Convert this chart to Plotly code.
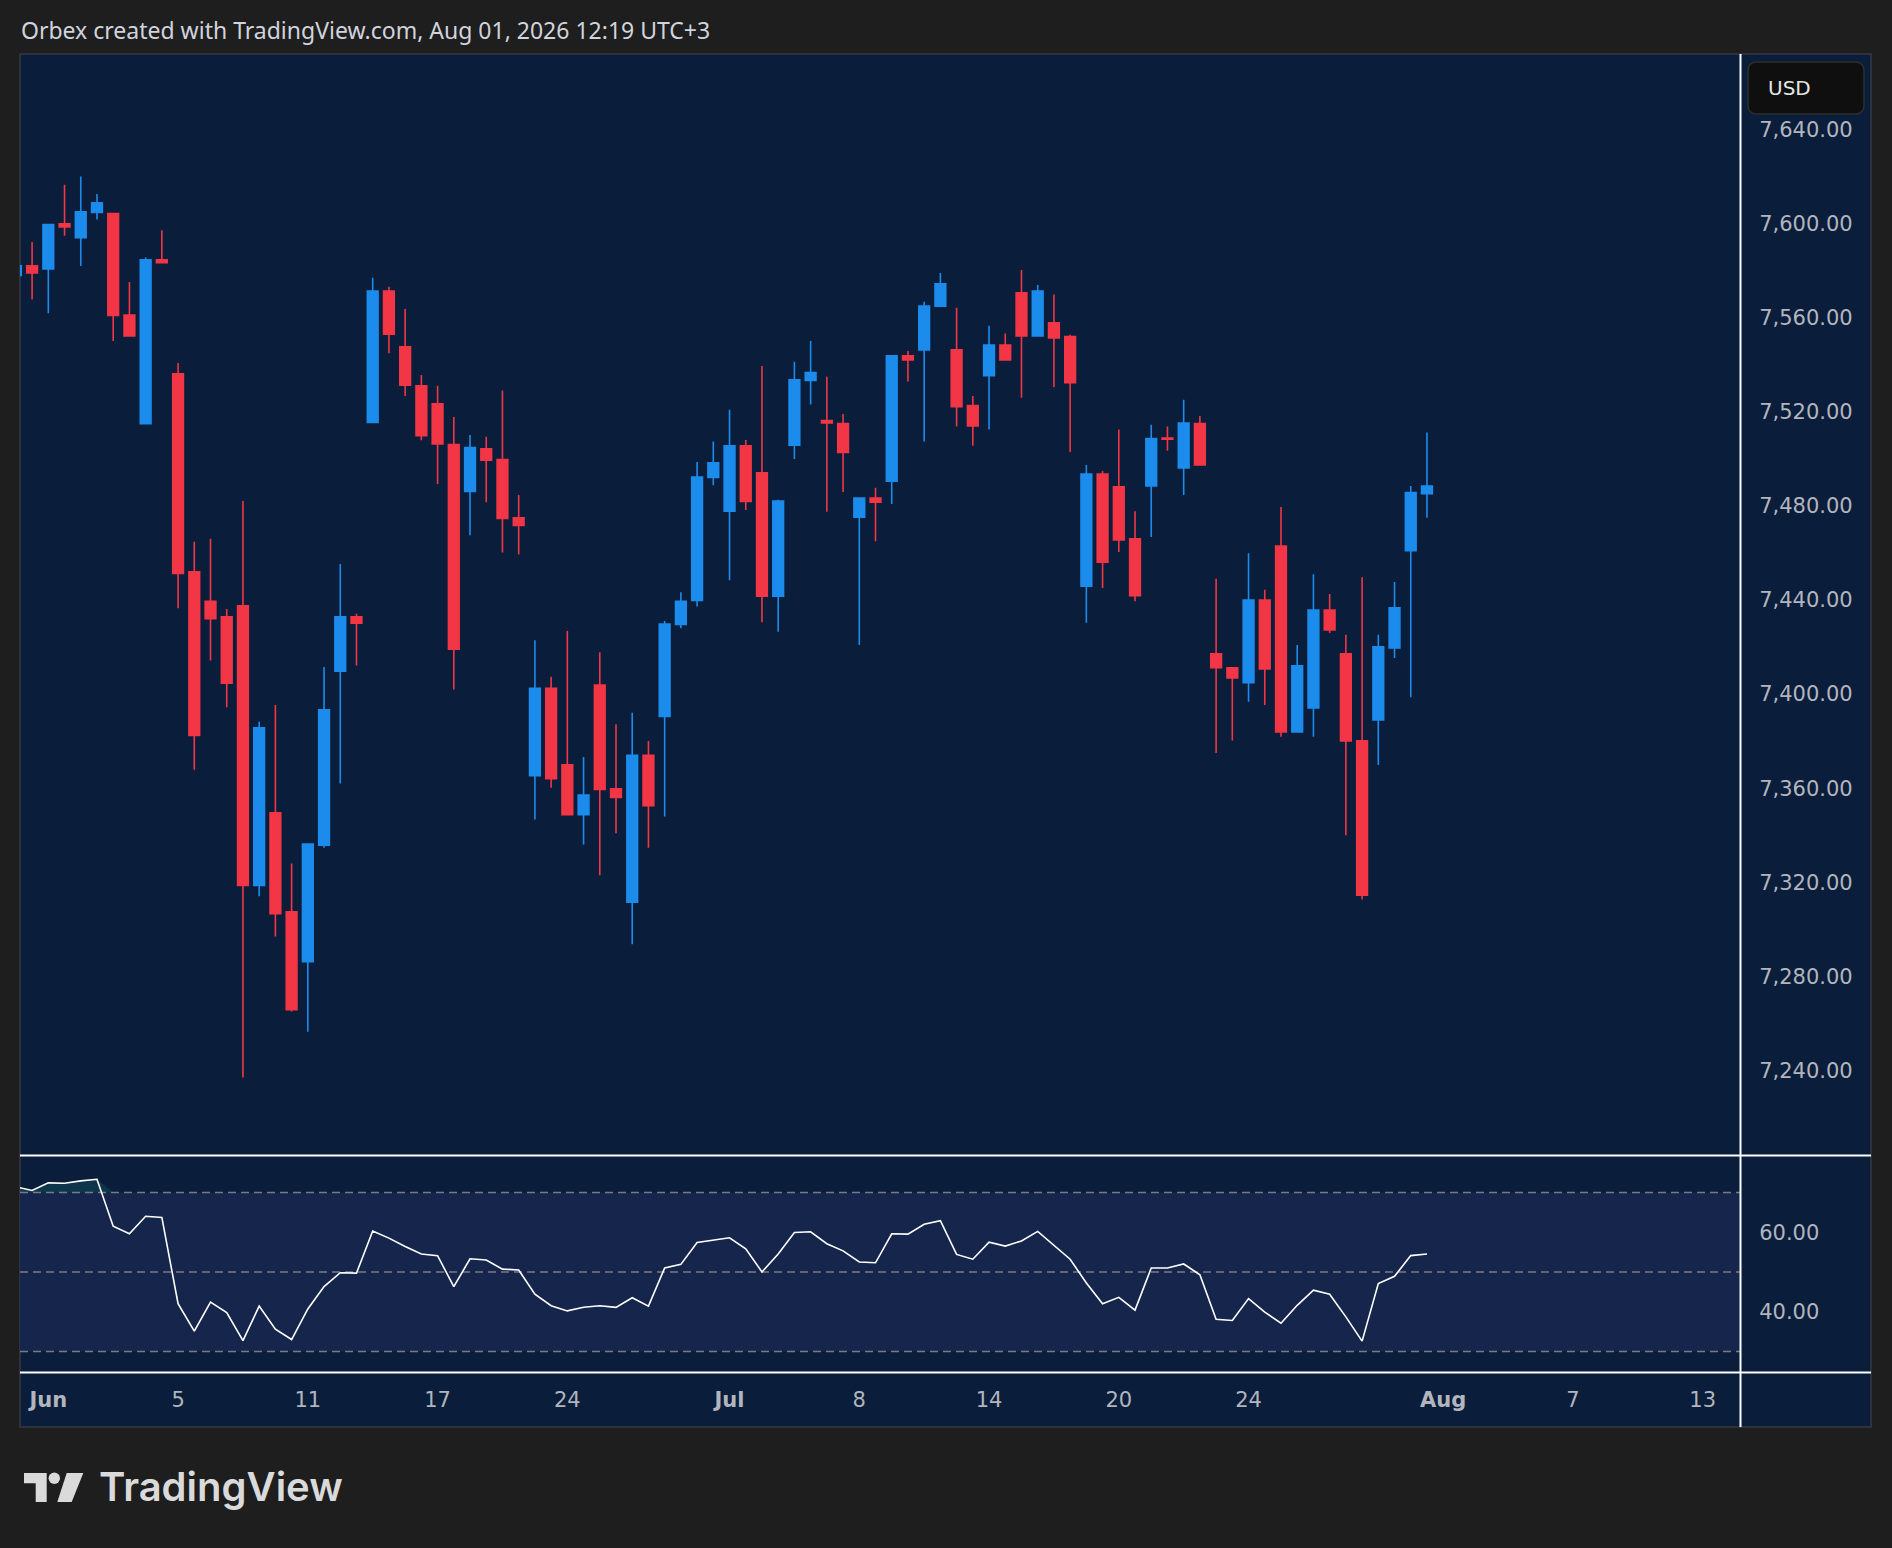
import plotly.graph_objects as go

# ---- data ---------------------------------------------------------------
# candle index: 0 = last candle of May 29, two candles per trading day
IDX = list(range(-1, 87))

OPEN = [7578.0, 7582.1, 7580.8, 7600.0, 7594.1, 7604.8, 7604.3, 7561.2, 7515.0, 7584.7,
        7536.2, 7452.0, 7439.5, 7432.9, 7437.5, 7318.6, 7349.5, 7307.4, 7286.2, 7335.7,
        7409.7, 7432.9, 7515.5, 7571.4, 7547.7, 7531.1, 7523.4, 7506.1, 7486.2, 7504.3,
        7499.7, 7475.0, 7365.3, 7402.5, 7369.9, 7348.7, 7403.8, 7359.7, 7311.5, 7374.0,
        7390.5, 7429.6, 7439.8, 7492.1, 7477.8, 7505.6, 7494.1, 7441.6, 7505.8, 7533.4,
        7516.3, 7515.0, 7475.2, 7483.4, 7490.5, 7543.9, 7546.4, 7565.0, 7546.4, 7522.7,
        7535.4, 7548.4, 7570.6, 7552.3, 7557.9, 7552.0, 7445.9, 7493.6, 7488.2, 7466.0,
        7488.5, 7508.9, 7496.2, 7515.0, 7417.1, 7411.2, 7404.8, 7440.0, 7463.0, 7383.9,
        7394.1, 7435.7, 7417.1, 7380.1, 7389.0, 7419.6, 7461.0, 7485.2]
HIGH = [7583.0, 7592.3, 7599.7, 7616.6, 7620.1, 7612.7, 7604.3, 7575.2, 7585.7, 7597.2,
        7540.8, 7464.8, 7466.1, 7436.2, 7482.1, 7388.2, 7395.4, 7328.0, 7336.2, 7411.5,
        7455.3, 7434.2, 7577.0, 7573.2, 7563.8, 7535.7, 7531.1, 7517.8, 7510.2, 7509.4,
        7529.1, 7484.7, 7422.9, 7407.4, 7426.8, 7373.2, 7417.8, 7387.2, 7392.1, 7380.1,
        7431.1, 7443.3, 7498.7, 7507.4, 7520.9, 7508.1, 7539.5, 7482.6, 7541.3, 7550.2,
        7534.9, 7519.1, 7483.4, 7487.7, 7543.9, 7545.9, 7566.8, 7579.1, 7564.3, 7526.8,
        7556.6, 7553.3, 7580.3, 7574.0, 7569.9, 7552.8, 7497.4, 7494.9, 7512.5, 7477.8,
        7514.5, 7513.8, 7525.2, 7518.3, 7449.0, 7411.2, 7459.9, 7444.4, 7479.6, 7420.9,
        7451.0, 7442.6, 7425.2, 7449.7, 7425.2, 7447.7, 7488.5, 7511.2]
LOW = [7577.0, 7567.8, 7562.0, 7594.9, 7582.1, 7601.8, 7550.2, 7552.3, 7515.0, 7583.4,
       7436.5, 7367.8, 7414.3, 7394.4, 7237.0, 7314.0, 7296.9, 7265.0, 7256.4, 7334.7,
       7362.0, 7412.2, 7515.5, 7544.9, 7526.8, 7507.9, 7489.3, 7402.0, 7467.6, 7481.6,
       7460.2, 7459.4, 7346.7, 7360.2, 7348.7, 7336.0, 7323.0, 7340.8, 7293.6, 7334.7,
       7348.0, 7428.0, 7437.2, 7488.8, 7448.4, 7478.3, 7430.6, 7426.5, 7500.0, 7523.2,
       7477.5, 7485.9, 7420.9, 7465.0, 7480.8, 7532.9, 7507.4, 7564.8, 7513.8, 7505.6,
       7512.5, 7542.1, 7526.0, 7552.3, 7530.6, 7503.0, 7430.3, 7445.1, 7460.4, 7439.5,
       7466.8, 7503.5, 7484.7, 7497.4, 7375.0, 7380.3, 7396.7, 7395.4, 7381.9, 7383.9,
       7381.9, 7426.0, 7340.0, 7312.7, 7369.9, 7415.3, 7398.7, 7475.0]
CLOSE = [7582.1, 7579.1, 7599.7, 7598.7, 7605.1, 7608.9, 7561.0, 7552.3, 7584.7, 7583.4,
         7451.3, 7382.4, 7432.1, 7404.6, 7318.6, 7385.7, 7306.6, 7265.8, 7336.2, 7393.3,
         7432.9, 7430.1, 7571.4, 7553.0, 7531.4, 7509.9, 7506.4, 7419.1, 7504.8, 7499.5,
         7474.7, 7471.7, 7402.5, 7364.0, 7348.7, 7357.1, 7359.4, 7356.1, 7374.0, 7352.5,
         7429.8, 7439.5, 7492.3, 7498.4, 7505.6, 7481.9, 7441.6, 7482.1, 7533.7, 7536.7,
         7515.3, 7502.8, 7483.4, 7481.6, 7543.9, 7542.1, 7565.0, 7574.5, 7522.2, 7514.0,
         7548.4, 7542.1, 7552.3, 7571.4, 7551.5, 7532.4, 7493.6, 7456.1, 7465.5, 7441.8,
         7508.7, 7508.4, 7515.3, 7497.4, 7411.2, 7406.9, 7440.0, 7410.7, 7383.9, 7412.0,
         7435.7, 7427.3, 7380.1, 7314.5, 7420.1, 7436.7, 7485.7, 7488.5]

RSI = [71.4, 70.5, 72.4, 72.3, 72.9, 73.3, 61.5, 59.6, 64.0, 63.7,
       42.0, 35.1, 42.4, 39.8, 32.7, 41.4, 35.6, 33.0, 40.7, 46.3,
       49.8, 49.7, 60.3, 58.5, 56.4, 54.5, 54.1, 46.3, 53.3, 53.0,
       50.7, 50.5, 44.4, 41.5, 40.2, 41.1, 41.5, 41.1, 43.5, 41.4,
       51.0, 51.9, 57.4, 58.0, 58.6, 55.8, 50.0, 54.5, 59.9, 60.1,
       57.1, 55.3, 52.5, 52.3, 59.6, 59.5, 62.0, 62.9, 54.4, 53.2,
       57.5, 56.5, 57.8, 60.2, 56.6, 53.2, 47.2, 42.0, 43.6, 40.4,
       51.0, 51.0, 52.0, 49.3, 38.1, 37.8, 43.3, 39.9, 37.1, 41.6,
       45.4, 44.4, 38.7, 32.6, 47.1, 48.9, 54.1, 54.5]

PRICE_TICKS = [7240, 7280, 7320, 7360, 7400, 7440, 7480, 7520, 7560, 7600, 7640]
RSI_TICKS = [40, 60]
RSI_LEVELS = [70, 50, 30]
X_TICK_POS = [1, 9, 17, 25, 33, 43, 51, 59, 67, 75, 87, 95, 103]
X_TICK_TEXT = ["<b>Jun</b>", "5", "11", "17", "24", "<b>Jul</b>", "8", "14", "20", "24",
               "<b>Aug</b>", "7", "13"]

HEADER = "Orbex created with TradingView.com, Aug 01, 2026 12:19 UTC+3"

# ---- page geometry (pixels) ---------------------------------------------
W, H = 1892, 1548
BG_PAGE = "#1e1e1e"
BG_CHART = "#0a1d3a"
BAND = "#16254b"
UP = "#1c8cec"
DOWN = "#f23645"
AXIS_TXT = "#b2b5be"
FONT = "'DejaVu Sans', sans-serif"


def px(x):
    return x / W


def py(y):
    return 1 - y / H


def rounded_rect(x0, y0, x1, y1, r):
    """svg path in paper coords for a rounded rectangle given in pixels"""
    pts = [
        f"M{px(x0 + r)},{py(y0)}", f"L{px(x1 - r)},{py(y0)}",
        f"Q{px(x1)},{py(y0)} {px(x1)},{py(y0 + r)}", f"L{px(x1)},{py(y1 - r)}",
        f"Q{px(x1)},{py(y1)} {px(x1 - r)},{py(y1)}", f"L{px(x0 + r)},{py(y1)}",
        f"Q{px(x0)},{py(y1)} {px(x0)},{py(y1 - r)}", f"L{px(x0)},{py(y0 + r)}",
        f"Q{px(x0)},{py(y0)} {px(x0 + r)},{py(y0)}", "Z",
    ]
    return " ".join(pts)


X_RANGE = [-0.746, 105.3]

fig = go.Figure()

fig.add_trace(go.Candlestick(
    x=IDX, open=OPEN, high=HIGH, low=LOW, close=CLOSE,
    increasing=dict(line=dict(color=UP, width=1.6), fillcolor=UP),
    decreasing=dict(line=dict(color=DOWN, width=1.6), fillcolor=DOWN),
    whiskerwidth=0, xaxis="x", yaxis="y", showlegend=False, hoverinfo="skip",
))

# faint overbought fill above 70
fig.add_trace(go.Scatter(
    x=IDX, y=[70] * len(IDX), mode="lines", line=dict(width=0),
    xaxis="x2", yaxis="y2", showlegend=False, hoverinfo="skip",
))
fig.add_trace(go.Scatter(
    x=IDX, y=[max(v, 70) for v in RSI], mode="lines", line=dict(width=0),
    fill="tonexty", fillcolor="rgba(38,166,154,0.18)",
    xaxis="x2", yaxis="y2", showlegend=False, hoverinfo="skip",
))
fig.add_trace(go.Scatter(
    x=IDX, y=RSI, mode="lines", line=dict(color="#ffffff", width=1.6),
    xaxis="x2", yaxis="y2", showlegend=False, hoverinfo="skip",
))

shapes = [
    # chart background + frame
    dict(type="rect", xref="paper", yref="paper", x0=px(20), x1=px(1871), y0=py(1427), y1=py(54),
         fillcolor=BG_CHART, line=dict(color="#363a45", width=1.5), layer="below"),
    # rsi band 30..70
    dict(type="rect", xref="paper", yref="y2", x0=px(20), x1=px(1740), y0=30, y1=70,
         fillcolor=BAND, line=dict(width=0), layer="below"),
]
for lv in RSI_LEVELS:
    shapes.append(dict(type="line", xref="paper", yref="y2", x0=px(20), x1=px(1740), y0=lv, y1=lv,
                       line=dict(color="#787b86", width=1.5, dash="8px,5px"), layer="below"))
# white separators
shapes += [
    dict(type="line", xref="paper", yref="paper", x0=px(1740.5), x1=px(1740.5), y0=py(1427), y1=py(54),
         line=dict(color="#ffffff", width=2)),
    dict(type="line", xref="paper", yref="paper", x0=px(20), x1=px(1871), y0=py(1155.5), y1=py(1155.5),
         line=dict(color="#ffffff", width=2)),
    dict(type="line", xref="paper", yref="paper", x0=px(20), x1=px(1871), y0=py(1372.5), y1=py(1372.5),
         line=dict(color="#ffffff", width=2)),
    # USD box
    dict(type="path", xref="paper", yref="paper", path=rounded_rect(1748, 62, 1864, 114, 9),
         fillcolor="#0f0f0f", line=dict(color="#2e2e2e", width=1.5)),
    # TradingView logo mark
    dict(type="path", xref="paper", yref="paper",
         path=f"M{px(24)},{py(1473)} L{px(46.7)},{py(1473)} L{px(46.7)},{py(1502)} "
              f"L{px(35.7)},{py(1502)} L{px(35.7)},{py(1483.3)} L{px(24)},{py(1483.3)} Z",
         fillcolor="#dadada", line=dict(width=0)),
    dict(type="circle", xref="paper", yref="paper", x0=px(48.6), x1=px(60), y0=py(1484), y1=py(1472.6),
         fillcolor="#dadada", line=dict(width=0)),
    dict(type="path", xref="paper", yref="paper",
         path=f"M{px(66.7)},{py(1473)} L{px(83.3)},{py(1473)} L{px(71.7)},{py(1502)} "
              f"L{px(57.3)},{py(1502)} Z",
         fillcolor="#dadada", line=dict(width=0)),
]

annotations = [
    dict(text=HEADER, xref="paper", yref="paper", x=px(19), y=py(30), xanchor="left", yanchor="middle",
         showarrow=False, font=dict(family="'Noto Sans', sans-serif", size=23, color="#d1d4dc")),
    dict(text="USD", xref="paper", yref="paper", x=px(1766), y=py(88), xanchor="left", yanchor="middle",
         showarrow=False, font=dict(family=FONT, size=20, color="#e6e6e6")),
    dict(text="TradingView", xref="paper", yref="paper", x=px(97), y=py(1486), xanchor="left",
         yanchor="middle", showarrow=False,
         font=dict(family="Inter, Roboto, sans-serif", size=40, color="#dadada", weight=600)),
]

fig.update_layout(
    width=W, height=H, autosize=False,
    margin=dict(l=0, r=0, t=0, b=0),
    paper_bgcolor=BG_PAGE, plot_bgcolor="rgba(0,0,0,0)",
    font=dict(family=FONT, color=AXIS_TXT),
    boxgap=0.34, boxgroupgap=0,
    showlegend=False,
    shapes=shapes, annotations=annotations,
    xaxis=dict(domain=[px(20), px(1740)], range=X_RANGE, anchor="y",
               showticklabels=False, showgrid=False, zeroline=False, showline=False,
               rangeslider=dict(visible=False), fixedrange=True),
    yaxis=dict(domain=[py(1155), py(54)], range=[7204.0, 7672.2], side="right", anchor="x",
               tickvals=PRICE_TICKS, ticktext=[f"{v:,.2f}" for v in PRICE_TICKS],
               ticks="outside", ticklen=14, tickcolor="rgba(0,0,0,0)",
               tickfont=dict(family=FONT, size=21, color=AXIS_TXT),
               showgrid=False, zeroline=False, showline=False),
    xaxis2=dict(domain=[px(20), px(1740)], range=X_RANGE, anchor="y2",
                tickvals=X_TICK_POS, ticktext=X_TICK_TEXT, tickangle=0,
                ticks="outside", ticklen=9, tickcolor="rgba(0,0,0,0)",
                tickfont=dict(family=FONT, size=21, color=AXIS_TXT),
                showgrid=False, zeroline=False, showline=False),
    yaxis2=dict(domain=[py(1372), py(1156)], range=[24.83, 79.16], side="right", anchor="x2",
                tickvals=RSI_TICKS, ticktext=[f"{v:.2f}" for v in RSI_TICKS],
                ticks="outside", ticklen=14, tickcolor="rgba(0,0,0,0)",
                tickfont=dict(family=FONT, size=21, color=AXIS_TXT),
                showgrid=False, zeroline=False, showline=False),
)

fig.write_html("out.html", config=dict(displayModeBar=False),
               post_script="document.body.style.margin='0';document.body.style.overflow='hidden';")
